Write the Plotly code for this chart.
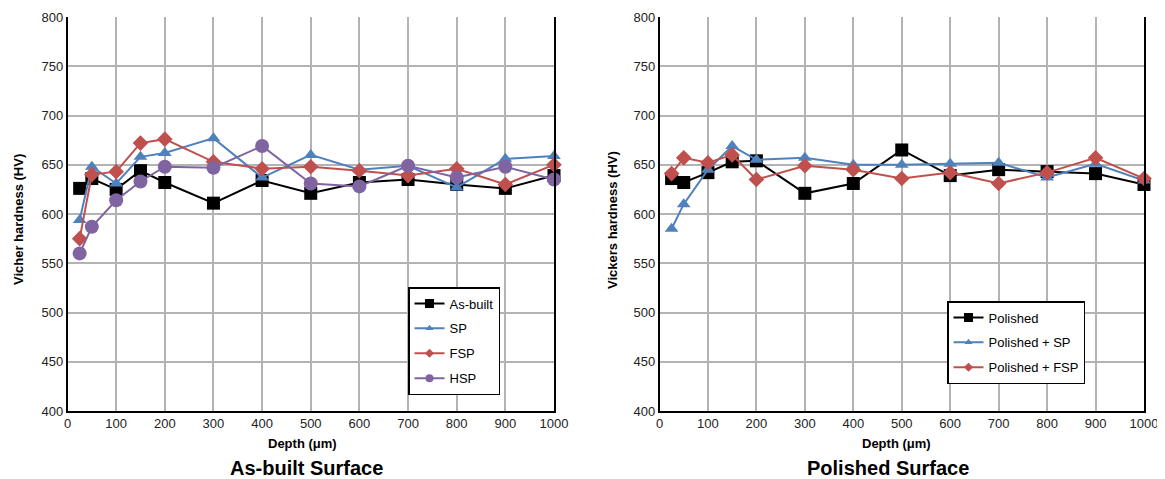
import plotly.graph_objects as go

depth = [25, 50, 100, 150, 200, 300, 400, 500, 600, 700, 800, 900, 1000]

as_built = [626, 636, 625, 644, 632, 611, 634, 621, 632, 635, 630, 626, 639]
sp = [594, 648, 631, 658, 662, 677, 637, 660, 645, 649, 627, 656, 659]
fsp = [575, 640, 643, 672, 676, 653, 646, 648, 644, 639, 646, 630, 650]
hsp = [560, 587, 614, 633, 648, 647, 669, 631, 628, 649, 637, 648, 635]

polished = [636, 632, 642, 653, 654, 621, 631, 665, 639, 645, 643, 641, 630]
polished_sp = [585, 610, 645, 669, 655, 657, 650, 650, 651, 652, 637, 651, 634]
polished_fsp = [641, 657, 652, 660, 635, 649, 645, 636, 642, 631, 642, 657, 636]

x_ticks = [0, 100, 200, 300, 400, 500, 600, 700, 800, 900, 1000]
y_ticks = [400, 450, 500, 550, 600, 650, 700, 750, 800]

BLACK = "#000000"
BLUE = "#4F81BD"
RED = "#C0504D"
PURPLE = "#8064A2"
FONT = "Liberation Sans, Arial, sans-serif"

# page has an 8px body margin; figure fills the rest of the 1165x479 window
OFF = 8
W, H = 1165 - OFF, 479 - OFF


def fx(px):
    return (px - OFF) / W


def fy(py):
    return 1 - (py - OFF) / H


fig = go.Figure()


def add(x, y, name, color, symbol, size, lsize, xa, ya, legend):
    fig.add_trace(go.Scatter(
        x=x, y=y, name=name, mode="lines+markers",
        line=dict(color=color, width=2),
        marker=dict(symbol=symbol, size=size, color=color),
        xaxis=xa, yaxis=ya, legend=legend, legendgroup=name,
        cliponaxis=False, showlegend=False,
    ))
    # legend entry with the small marker used in the reference legend
    fig.add_trace(go.Scatter(
        x=[None], y=[None], name=name, mode="lines+markers",
        line=dict(color=color, width=2),
        marker=dict(symbol=symbol, size=lsize, color=color),
        xaxis=xa, yaxis=ya, legend=legend, legendgroup=name,
        showlegend=True, hoverinfo="skip",
    ))


add(depth, as_built, "As-built", BLACK, "square", 13, 9, "x", "y", "legend")
add(depth, sp, "SP", BLUE, "triangle-up", 12, 7, "x", "y", "legend")
add(depth, fsp, "FSP", RED, "diamond", 12, 7, "x", "y", "legend")
add(depth, hsp, "HSP", PURPLE, "circle", 14, 8, "x", "y", "legend")

add(depth, polished, "Polished", BLACK, "square", 13, 9, "x2", "y2", "legend2")
add(depth, polished_sp, "Polished + SP", BLUE, "triangle-up", 12, 7, "x2", "y2", "legend2")
add(depth, polished_fsp, "Polished + FSP", RED, "diamond", 12, 7, "x2", "y2", "legend2")

xcommon = dict(range=[0, 1000], tickvals=x_ticks, showgrid=True, gridcolor="#b3b3b3",
               gridwidth=1.5, showline=True, linecolor="black", linewidth=1.5,
               ticks="", tickfont=dict(family=FONT, size=13, color="#222"),
               zeroline=False, fixedrange=True, automargin=False)
ycommon = dict(range=[400, 800], tickvals=y_ticks, showgrid=True, gridcolor="#b3b3b3",
               gridwidth=1.5, showline=True, linecolor="black", linewidth=1.5, mirror=True,
               ticks="", tickfont=dict(family=FONT, size=13, color="#222"),
               zeroline=False, fixedrange=True, domain=[fy(411), fy(17)], automargin=False)

fig.update_layout(
    width=W, height=H,
    margin=dict(l=0, r=0, t=0, b=0, autoexpand=False),
    paper_bgcolor="white", plot_bgcolor="white",
    font=dict(family=FONT, color="#000"),
    xaxis=dict(xcommon, domain=[fx(67.5), fx(554)], anchor="y"),
    yaxis=dict(ycommon, anchor="x"),
    xaxis2=dict(xcommon, domain=[fx(659.5), fx(1144)], anchor="y2"),
    yaxis2=dict(ycommon, anchor="x2"),
    legend=dict(x=fx(408), y=fy(287), xanchor="left", yanchor="top",
                bordercolor="black", borderwidth=1.5, bgcolor="white",
                font=dict(family=FONT, size=13), tracegroupgap=5),
    legend2=dict(x=fx(947), y=fy(301), xanchor="left", yanchor="top",
                 bordercolor="black", borderwidth=1.5, bgcolor="white",
                 font=dict(family=FONT, size=13), tracegroupgap=5),
    showlegend=True,
)

annos = [
    dict(text="Vicher hardness (HV)", x=fx(18), y=fy(220), textangle=-90,
         font=dict(size=13, family=FONT)),
    dict(text="Vickers hardness (HV)", x=fx(612), y=fy(220), textangle=-90,
         font=dict(size=13, family=FONT)),
    dict(text="Depth (μm)", x=fx(302), y=fy(443), font=dict(size=13, family=FONT)),
    dict(text="Depth (μm)", x=fx(896), y=fy(443), font=dict(size=13, family=FONT)),
    dict(text="As-built Surface", x=fx(306), y=fy(468), font=dict(size=20, family=FONT)),
    dict(text="Polished Surface", x=fx(888), y=fy(468), font=dict(size=20, family=FONT)),
]
for a in annos:
    a["text"] = "<b>" + a["text"] + "</b>"
    fig.add_annotation(xref="paper", yref="paper", showarrow=False,
                       xanchor="center", yanchor="middle", **a)

fig.write_html("out.html")
